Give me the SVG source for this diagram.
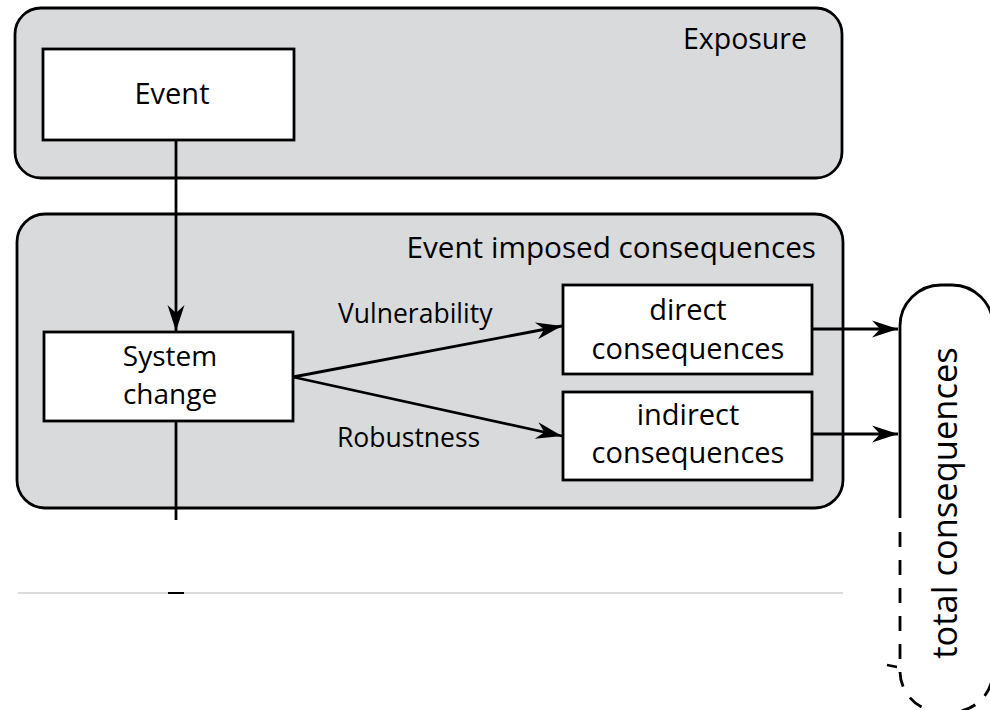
<svg xmlns="http://www.w3.org/2000/svg" width="990" height="710" viewBox="0 0 990 710">
  <style>
    .panel { fill: #d9dadc; stroke: #000; stroke-width: 2.8; }
    .box { fill: #fff; stroke: #000; stroke-width: 2.8; }
    .lbl { font-family: "Open Sans", "DejaVu Sans", sans-serif; font-size: 29px; fill: #000; }
    .small { font-size: 26.5px; }
    .edge { fill: none; stroke: #000; stroke-width: 2.8; }
  </style>
  <defs>
    <marker id="ah" viewBox="-27 -10 29 20" refX="0" refY="0" markerWidth="29" markerHeight="20" markerUnits="userSpaceOnUse" orient="auto">
      <path d="M0,0 L-26,-8.5 L-18,0 L-26,8.5 Z" fill="#000"/>
    </marker>
  </defs>

  <rect width="990" height="710" fill="#fff"/>

  <!-- outer panels -->
  <g id="exposure">
    <rect class="panel" x="15" y="8" width="827" height="170" rx="26"/>
    <text class="lbl" x="807" y="49" text-anchor="end" style="font-size:28.5px">Exposure</text>
  </g>
  <g id="event-imposed">
    <rect class="panel" x="17" y="214" width="826" height="294" rx="28"/>
    <text class="lbl" x="816" y="258" text-anchor="end" style="font-size:29.7px">Event imposed consequences</text>
  </g>

  <!-- baseline rule -->
  <line x1="18" y1="593" x2="843" y2="593" stroke="#d0d0d0" stroke-width="1.5"/>
  <line x1="168" y1="593" x2="184" y2="593" stroke="#000" stroke-width="2"/>

  <!-- nodes -->
  <g id="event">
    <rect class="box" x="43" y="49" width="251" height="91"/>
    <text class="lbl" x="172" y="104" text-anchor="middle">Event</text>
  </g>
  <g id="system-change">
    <rect class="box" x="44" y="332" width="249" height="89"/>
    <text class="lbl" x="170" y="366" text-anchor="middle" style="font-size:28px">System</text>
    <text class="lbl" x="170" y="404" text-anchor="middle" style="font-size:28px">change</text>
  </g>
  <g id="direct">
    <rect class="box" x="563" y="285" width="249" height="89"/>
    <text class="lbl" x="688" y="320" text-anchor="middle">direct</text>
    <text class="lbl" x="688" y="359" text-anchor="middle">consequences</text>
  </g>
  <g id="indirect">
    <rect class="box" x="563" y="392" width="249" height="88"/>
    <text class="lbl" x="688" y="425" text-anchor="middle">indirect</text>
    <text class="lbl" x="688" y="463" text-anchor="middle">consequences</text>
  </g>
  <g id="total">
    <path class="edge" d="M900,518 V326 A41,41 0 0 1 941,285 H952 A41,41 0 0 1 993,326 V600"/>
    <path class="edge" d="M900,532 V671 A41,41 0 0 0 941,712 H952 A41,41 0 0 0 993,671 V600" stroke-dasharray="15 13"/>
    <line x1="887" y1="665" x2="897" y2="667" stroke="#000" stroke-width="2.8"/>
    <text class="lbl" transform="translate(957,503) rotate(-90)" text-anchor="middle" style="font-size:34.5px">total consequences</text>
  </g>

  <!-- connectors -->
  <g id="connectors">
    <line class="edge" x1="176" y1="140" x2="176" y2="331" marker-end="url(#ah)"/>
    <line class="edge" x1="176" y1="421" x2="176" y2="520"/>
    <line class="edge" x1="293" y1="377" x2="562" y2="326" marker-end="url(#ah)"/>
    <line class="edge" x1="293" y1="377" x2="562" y2="436" marker-end="url(#ah)"/>
    <line class="edge" x1="812" y1="329" x2="898" y2="329" marker-end="url(#ah)"/>
    <line class="edge" x1="812" y1="434" x2="898" y2="434" marker-end="url(#ah)"/>
    <text class="lbl small" x="338" y="323">Vulnerability</text>
    <text class="lbl small" x="337" y="447">Robustness</text>
  </g>
</svg>
